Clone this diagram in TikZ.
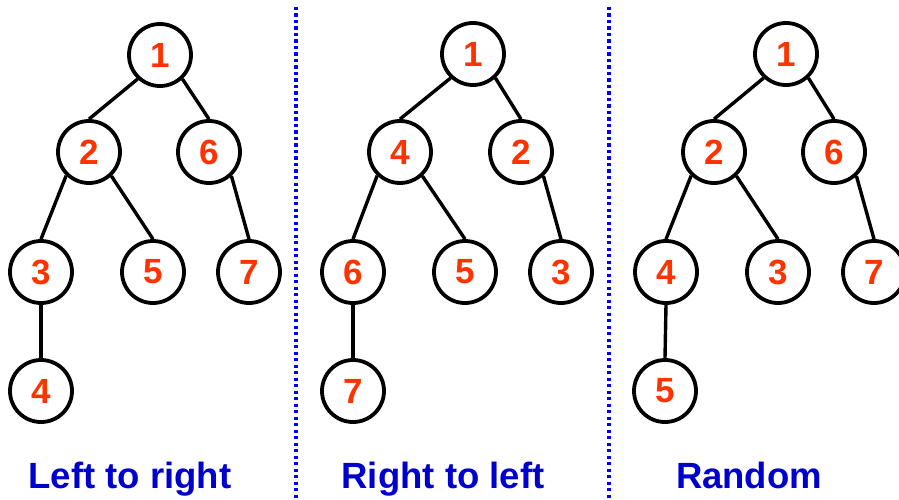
\documentclass[tikz,border=0pt]{standalone}
\usepackage{fontspec}
\setmainfont{Liberation Sans}
\definecolor{numred}{RGB}{255,51,0}
\definecolor{labblue}{RGB}{0,0,204}
\definecolor{sepblue}{RGB}{0,0,255}
\begin{document}
\begin{tikzpicture}[x=1pt,y=-1pt,
  tn/.style={circle,draw=black,line width=3.8pt,minimum size=62pt,inner sep=0pt,
    text=numred,font=\fontsize{35}{35}\selectfont\bfseries},
  edge/.style={line width=3.4pt,black},
  sep/.style={sepblue,line width=3.3pt,dash pattern=on 3.3pt off 3.2pt},
  lbl/.style={text=labblue,font=\fontsize{36.5}{36.5}\selectfont\bfseries,anchor=base}]
\useasboundingbox (0,0) rectangle (899,500);
% separators
\coordinate (s1t) at (296,7); \coordinate (s1b) at (296,500);
\coordinate (s2t) at (609,7); \coordinate (s2b) at (609,500);
\draw[sep] (s1t) -- (s1b);
\draw[sep] (s2t) -- (s2b);
% tree 1
\node[tn] (a1) at (160,55) {1};
\node[tn] (a2) at (89,152) {2};
\node[tn] (a6) at (209,152) {6};
\node[tn] (a3) at (41,272) {3};
\node[tn] (a5) at (153,272) {5};
\node[tn] (a7) at (249,272) {7};
\node[tn] (a4) at (41,391) {4};
\draw[edge] (a1.-133) -- (a2.north);
\draw[edge] (a1.-47) -- (a6.north);
\draw[edge] (a2.-134) -- (a3.north);
\draw[edge] (a2.-47) -- (a5.north);
\draw[edge] (a6.-47) -- (a7.north);
\draw[edge] (a3.south) -- (a4.north);
% tree 2
\node[tn] (b1) at (473,54) {1};
\node[tn] (b4) at (400,152) {4};
\node[tn] (b2) at (521,152) {2};
\node[tn] (b6) at (353,272) {6};
\node[tn] (b5) at (465,272) {5};
\node[tn] (b3) at (561,272) {3};
\node[tn] (b7) at (353,391) {7};
\draw[edge] (b1.-133) -- (b4.north);
\draw[edge] (b1.-47) -- (b2.north);
\draw[edge] (b4.-134) -- (b6.north);
\draw[edge] (b4.-47) -- (b5.north);
\draw[edge] (b2.-47) -- (b3.north);
\draw[edge] (b6.south) -- (b7.north);
% tree 3
\node[tn] (c1) at (786,54) {1};
\node[tn] (c2) at (714,152) {2};
\node[tn] (c6) at (834,152) {6};
\node[tn] (c4) at (666,272) {4};
\node[tn] (c3) at (778,272) {3};
\node[tn] (c7) at (874,272) {7};
\node[tn] (c5) at (665,391) {5};
\draw[edge] (c1.-133) -- (c2.north);
\draw[edge] (c1.-47) -- (c6.north);
\draw[edge] (c2.-134) -- (c4.north);
\draw[edge] (c2.-47) -- (c3.north);
\draw[edge] (c6.-47) -- (c7.north);
\draw[edge] (c4.south) -- (c5.north);
% captions
\node[lbl] (l1) at (130,488) {Left to right};
\node[lbl] (l2) at (443,488) {Right to left};
\node[lbl] (l3) at (749,488) {Random};
\end{tikzpicture}
\end{document}
